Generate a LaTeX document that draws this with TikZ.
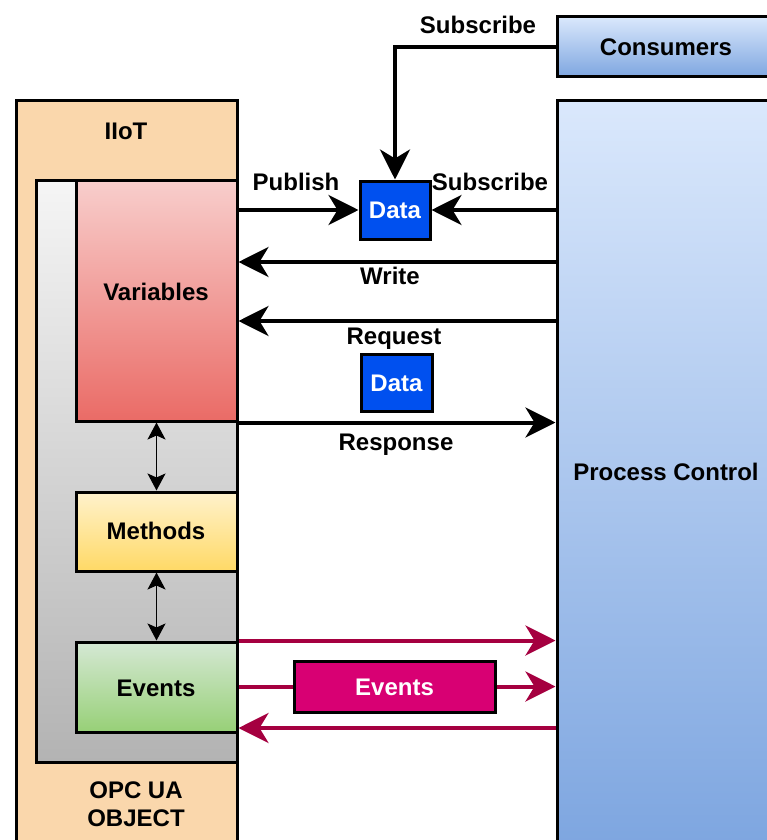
\documentclass[tikz,border=0pt]{standalone}
\usepackage{fontspec}
\setmainfont{Liberation Sans}
\usetikzlibrary{arrows.meta}
\definecolor{peach}{HTML}{FAD7AC}
\definecolor{grayTop}{HTML}{F5F5F5}
\definecolor{grayBot}{HTML}{B3B3B3}
\definecolor{redTop}{HTML}{F8CECC}
\definecolor{redBot}{HTML}{EA6B66}
\definecolor{yelTop}{HTML}{FFF2CC}
\definecolor{yelBot}{HTML}{FFD966}
\definecolor{grnTop}{HTML}{D5E8D4}
\definecolor{grnBot}{HTML}{97D077}
\definecolor{bluTop}{HTML}{DAE8FC}
\definecolor{bluBot}{HTML}{7EA6E0}
\definecolor{dataBlue}{HTML}{0050EF}
\definecolor{evPink}{HTML}{D80073}
\definecolor{evLine}{HTML}{A50040}
\begin{document}
\begin{tikzpicture}[x=1pt,y=-1pt,
  every node/.style={font=\bfseries\fontsize{24}{28}\selectfont},
  box/.style={rectangle, draw=black, line width=3pt, inner sep=0pt},
  lbl/.style={inner sep=0pt, text height=17.2pt, text depth=0pt},
  bigarrow/.style={line width=4pt, -{Stealth[length=30pt,width=30pt,inset=9pt]}},
  evarrow/.style={bigarrow, draw=evLine},
  evline/.style={line width=4pt, draw=evLine},
  smallarrow/.style={line width=1.8pt, {Stealth[length=17pt,width=18pt,inset=4pt]}-{Stealth[length=17pt,width=18pt,inset=4pt]}}
]
\useasboundingbox (0,0) rectangle (767,840);
\clip (0,0) rectangle (767,840);
\fill[white] (0,0) rectangle (767,840);

% OPC UA object with its members
\node[box, fill=peach, minimum width=221pt, minimum height=759pt] (iiot) at (126.5,480.5) {};
\node[box, top color=grayTop, bottom color=grayBot, minimum width=201pt, minimum height=582pt] (obj) at (136.5,471) {};
\node[box, top color=redTop, bottom color=redBot, minimum width=161pt, minimum height=241pt] (var) at (156.5,300.5) {};
\node[box, top color=yelTop, bottom color=yelBot, minimum width=161pt, minimum height=79pt] (meth) at (156.5,531.5) {};
\node[box, top color=grnTop, bottom color=grnBot, minimum width=161pt, minimum height=90pt] (ev) at (156.5,687) {};

\node[lbl] (iiotT) at (126,131) {IIoT};
\node[lbl] (varT) at (156,292) {Variables};
\node[lbl] (methT) at (156,531) {Methods};
\node[lbl] (evT) at (156,688) {Events};
\node[inner sep=0pt, align=center] (objT) at (136,804) {OPC UA\\OBJECT};

\draw[smallarrow] (var.south) -- (meth.north);
\draw[smallarrow] (meth.south) -- (ev.north);

% Consumers and process control
\node[box, top color=bluTop, bottom color=bluBot, minimum width=220pt, minimum height=60pt] (cons) at (667,47) {};
\node[box, top color=bluTop, bottom color=bluBot, minimum width=220pt, minimum height=742pt] (proc) at (667,472) {};
\node[lbl] (consT) at (666,47) {Consumers};
\node[lbl] (procT) at (666,472) {Process Control};

% Data messages
\node[box, fill=dataBlue, text=white, minimum width=70pt, minimum height=58pt, text height=17.2pt, text depth=0pt] (d1) at (395,210) {Data};
\node[box, fill=dataBlue, text=white, minimum width=71pt, minimum height=57pt, text height=17.2pt, text depth=0pt] (d2) at (396.5,383) {Data};
\node[box, fill=evPink, text=white, minimum width=201pt, minimum height=51pt, text height=17.2pt, text depth=0pt] (pe) at (394.5,686.5) {Events};

% Data flows
\coordinate (wy) at (0,262);
\coordinate (ry) at (0,321);
\coordinate (by) at (0,728);
\draw[bigarrow] (cons.west) -| (d1.north);
\draw[bigarrow] (d1.west -| var.east) -- (d1.west);
\draw[bigarrow] (proc.west |- d1.east) -- (d1.east);
\draw[bigarrow] (proc.west |- wy) -- (var.east |- wy);
\draw[bigarrow] (proc.west |- ry) -- (var.east |- ry);
\draw[bigarrow] (var.south east) -- (proc.west |- var.south east);

\node[lbl] (subT1) at (478,25) {Subscribe};
\node[lbl] (pubT) at (296,182) {Publish};
\node[lbl] (subT2) at (490,182) {Subscribe};
\node[lbl] (wrT) at (390,276) {Write};
\node[lbl] (reqT) at (394,336) {Request};
\node[lbl] (resT) at (396,442) {Response};

% Event flows
\draw[evarrow] (ev.north east) -- (proc.west |- ev.north east);
\draw[evline] (ev.east |- pe.west) -- (pe.west);
\draw[evarrow] (pe.east) -- (proc.west |- pe.east);
\draw[evarrow] (proc.west |- by) -- (ev.east |- by);
\end{tikzpicture}
\end{document}
